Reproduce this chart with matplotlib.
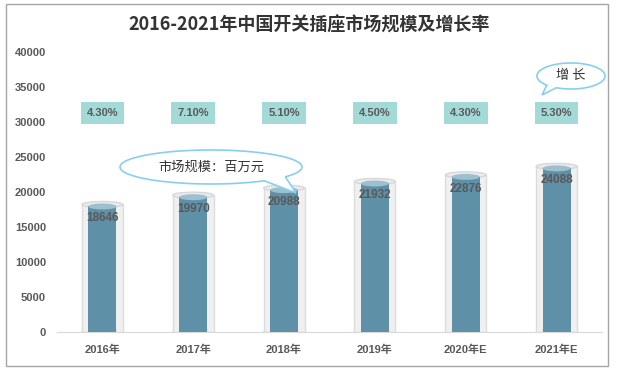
import matplotlib
matplotlib.use('Agg')
import matplotlib.pyplot as plt
import numpy as np
from matplotlib.patches import Ellipse, Rectangle, Polygon

years = ['2016年', '2017年', '2018年', '2019年', '2020年E', '2021年E']
market = [18646, 19970, 20988, 21932, 22876, 24088]
growth = ['4.30%', '7.10%', '5.10%', '4.50%', '4.30%', '5.30%']
title = '2016-2021年中国开关插座市场规模及增长率'

W, H = 618, 370
fam = ['Liberation Sans', 'Noto Sans CJK SC']
gray_txt = '#595959'

fig = plt.figure(figsize=(W / 100, H / 100), dpi=100)
ax = fig.add_axes([57 / W, (H - 332) / H, (602 - 57) / W, (332 - 52) / H])

x = np.arange(len(years))
px = 40000 / 280  # data units per pixel on y

# outer glass cylinders
outer = [v - 3 * px for v in market]
ax.bar(x, outer, width=0.45, color='#f0f0f0', edgecolor='#dcdcdc', lw=1, zorder=2)
for xi, v in zip(x, outer):
    ax.add_patch(Ellipse((xi, v), 0.45, 6 * px, facecolor='#ebebeb', edgecolor='#d8d8d8', lw=1, zorder=2.1))
    ax.add_patch(Ellipse((xi, 0), 0.45, 5 * px, facecolor='#f0f0f0', edgecolor='#dcdcdc', lw=1, zorder=1.9))

# inner blue bars
inner = [v - 5 * px for v in market]
ax.bar(x, inner, width=0.31, color='#5e90a7', zorder=3)
for xi, v in zip(x, inner):
    ax.add_patch(Ellipse((xi, v), 0.31, 6 * px, facecolor='#9dbfce', edgecolor='none', zorder=3.1))
    ax.add_patch(Ellipse((xi, 2 * px), 0.31, 5 * px, facecolor='#5e90a7', edgecolor='none', zorder=3.05))

for xi, v in zip(x, market):
    ax.text(xi, v - 17 * px, str(v), ha='center', va='center', fontsize=8.5,
            fontweight='bold', color=gray_txt, family=fam, zorder=5)

# growth rate boxes
rate_y = 31300
for xi, g in zip(x, growth):
    ax.text(xi, rate_y, g, ha='center', va='center', fontsize=8, fontweight='bold',
            color=gray_txt, family=fam, zorder=5,
            bbox=dict(boxstyle='square,pad=0.55', facecolor='#a3d9d6', edgecolor='none'))

ax.set_xlim(-0.5, 5.5)
ax.set_ylim(0, 40000)
ax.set_yticks(np.arange(0, 40001, 5000))
ax.set_xticks(x)
ax.set_xticklabels(years)
for s in ['top', 'right', 'left']:
    ax.spines[s].set_visible(False)
ax.spines['bottom'].set_color('#d9d9d9')
ax.tick_params(axis='y', length=0, pad=8)
ax.tick_params(axis='x', length=0, pad=9)
for lab in ax.get_xticklabels() + ax.get_yticklabels():
    lab.set_family(fam)
    lab.set_fontsize(8)
    lab.set_fontweight('bold')
    lab.set_color(gray_txt)

# overlay in pixel coords for frame, title and callouts
ov = fig.add_axes([0, 0, 1, 1], zorder=10)
ov.set_xlim(0, W)
ov.set_ylim(H, 0)
ov.axis('off')
ov.patch.set_visible(False)
ov.add_patch(Rectangle((5.5, 3.5), 602, 362, fill=False, edgecolor='#a6a6a6', lw=1))
ov.text(309, 25, title, ha='center', va='center', fontsize=13, fontweight='bold',
        color='#333333', family=['Noto Sans CJK SC'])


def callout(cx, cy, a, b, t1, t2, tip, text, fs):
    t = np.linspace(0, 2 * np.pi, 400)
    pts = []
    done = False
    for ti in t:
        if t1 < np.degrees(ti) < t2:
            if not done:
                pts.append(tip)
                done = True
            continue
        pts.append((cx + a * np.cos(ti), cy + b * np.sin(ti)))
    ov.add_patch(Polygon(pts, closed=True, facecolor='white', edgecolor='#86d0ee', lw=1.2))
    ov.text(cx, cy, text, ha='center', va='center', fontsize=fs, color='#333333',
            family=['Noto Sans CJK SC'])


callout(211, 167, 91, 17, 36, 54, (296, 193), '市场规模：百万元', 9.5)
callout(571, 76, 34, 13, 116, 135, (542, 95), '增 长', 9.5)

fig.savefig('out.png', dpi=100)
